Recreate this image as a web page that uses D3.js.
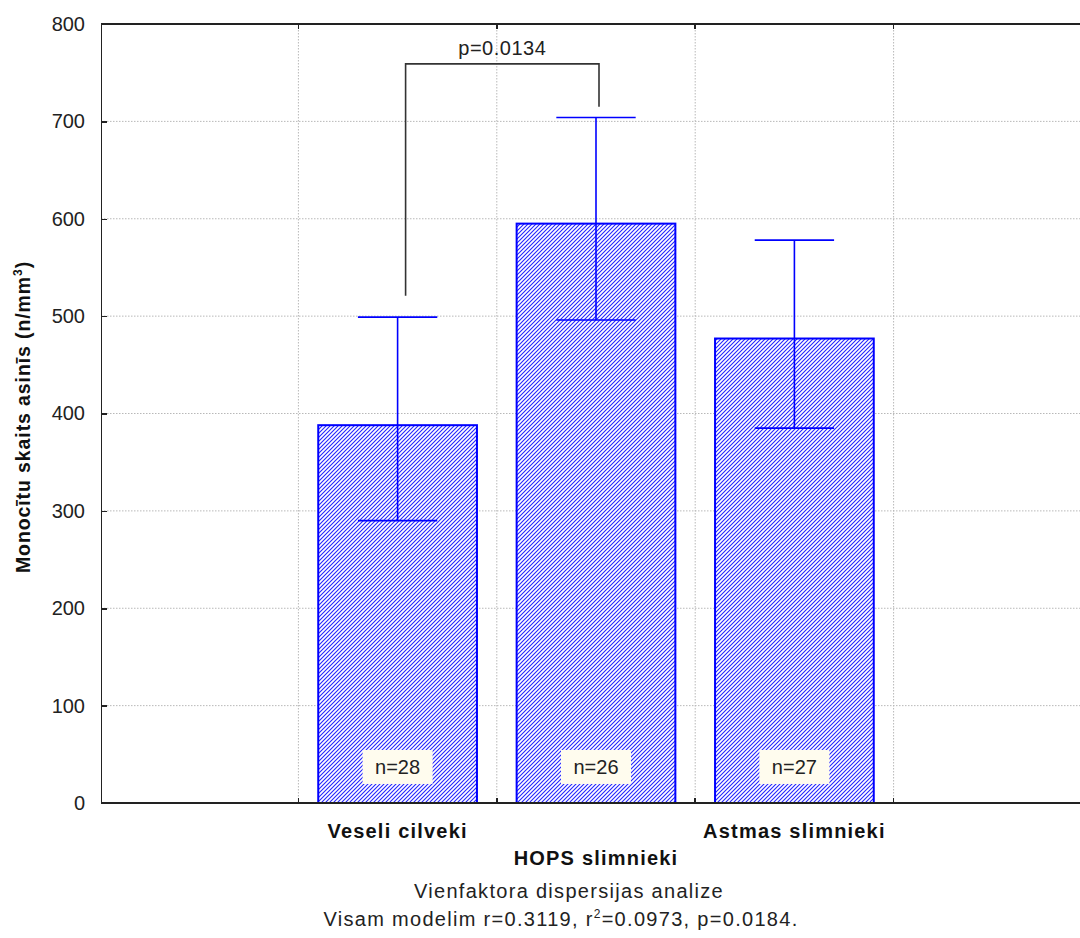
<!DOCTYPE html>
<html lang="lv">
<head>
    <meta charset="UTF-8">
    <title>Monocītu skaits asinīs</title>
    <script src="https://d3js.org/d3.v7.min.js"></script>
    <style>
        body {
            margin: 0;
            background: #fff;
            font-family: "Liberation Sans", Arial, sans-serif;
        }

        .grid line {
            stroke: #b8b8b8;
            stroke-width: 1;
            stroke-dasharray: 1.5, 1.5;
        }

        .axis path,
        .axis line {
            stroke: #222;
            stroke-width: 1.5;
            shape-rendering: crispEdges;
        }

        .axis text {
            font-size: 20px;
            fill: #222;
        }

        .bar {
            fill: url(#hatch);
            stroke: #0000ff;
            stroke-width: 2;
        }

        .err {
            stroke: #0000ff;
            stroke-width: 1.6;
        }

        .bracket {
            fill: none;
            stroke: #333;
            stroke-width: 1.6;
        }

        .cat-label {
            font-size: 20px;
            font-weight: bold;
            letter-spacing: 1.2px;
            fill: #111;
        }

        .note {
            font-size: 20px;
            letter-spacing: 1.3px;
            fill: #222;
        }
    </style>
</head>
<body>
    <svg width="1080" height="938"></svg>
    <script>
        // values
        const categories = ["Veseli cilveki", "HOPS slimnieki", "Astmas slimnieki"];
        const means = [388, 595, 477];
        const upper = [499, 704, 578];
        const lower = [290, 496, 385];
        const nLabels = ["n=28", "n=26", "n=27"];
        const yTicks = [0, 100, 200, 300, 400, 500, 600, 700, 800];
        // p-value bracket between group 1 and 2
        const bracketPair = [0, 1];
        const bracketTop = 759;
        const bracketEnds = [521, 715];
        const pText = "p=0.0134";

        const width = 1080;
        const height = 938;
        const margin = { top: 24, right: -12, bottom: 135, left: 101 };

        const svg = d3.select("svg");

        const defs = svg.append("defs");
        const pat = defs.append("pattern")
            .attr("id", "hatch")
            .attr("patternUnits", "userSpaceOnUse")
            .attr("width", 4)
            .attr("height", 4);
        pat.append("rect").attr("width", 4).attr("height", 4).attr("fill", "#fff");
        pat.append("path")
            .attr("d", "M-1,1 l2,-2 M0,4 l4,-4 M3,5 l2,-2")
            .attr("stroke", "#2323ff")
            .attr("stroke-width", 1.1);

        // empty slot on each side, like the original layout
        const slots = ["_l"].concat(categories, ["_r"]);

        const x = d3.scaleBand()
            .domain(slots)
            .range([margin.left - 1, width - margin.right]);

        const y = d3.scaleLinear()
            .domain([0, 800])
            .range([height - margin.bottom, margin.top]);

        const cx = i => x(categories[i]) + x.bandwidth() / 2;
        const barW = x.bandwidth() * 0.8;

        // grid
        const grid = svg.append("g").attr("class", "grid");
        grid.selectAll(".h").data(yTicks.slice(1, -1)).join("line")
            .attr("x1", margin.left).attr("x2", width)
            .attr("y1", d => y(d)).attr("y2", d => y(d));
        grid.selectAll(".v").data(slots.slice(1)).join("line")
            .attr("x1", d => x(d)).attr("x2", d => x(d))
            .attr("y1", margin.top).attr("y2", y(0));

        // bars
        svg.selectAll(".bar").data(means).join("rect")
            .attr("class", "bar")
            .attr("x", (d, i) => cx(i) - barW / 2)
            .attr("width", barW)
            .attr("y", d => y(d))
            .attr("height", d => y(0) - y(d));

        // error bars
        const capW = barW / 2;
        const err = svg.append("g");
        means.forEach((m, i) => {
            err.append("line").attr("class", "err")
                .attr("x1", cx(i)).attr("x2", cx(i))
                .attr("y1", y(lower[i])).attr("y2", y(upper[i]));
            [lower[i], upper[i]].forEach(v => {
                err.append("line").attr("class", "err")
                    .attr("x1", cx(i) - capW / 2).attr("x2", cx(i) + capW / 2)
                    .attr("y1", y(v)).attr("y2", y(v));
            });
        });

        // n labels
        const nAt = 37;
        const nl = svg.selectAll(".nlab").data(nLabels).join("g")
            .attr("transform", (d, i) => `translate(${cx(i)},${y(nAt)})`);
        nl.append("rect")
            .attr("x", -35).attr("y", -17).attr("width", 70).attr("height", 34)
            .attr("fill", "#fffcee");
        nl.append("text")
            .attr("text-anchor", "middle")
            .attr("dy", "0.36em")
            .style("font-size", "20px")
            .style("fill", "#222")
            .text(d => d);

        // axes
        const yAxis = svg.append("g")
            .attr("class", "axis")
            .attr("transform", `translate(${margin.left},0)`)
            .call(d3.axisLeft(y).tickValues(yTicks).tickSize(-6).tickSizeOuter(0).tickPadding(16));
        yAxis.selectAll(".tick").filter(d => d === 0 || d === 800).select("line").remove();

        const xAxis = svg.append("g").attr("class", "axis");
        xAxis.append("line")
            .attr("x1", margin.left).attr("x2", width)
            .attr("y1", y(0)).attr("y2", y(0));
        xAxis.append("line")
            .attr("x1", margin.left).attr("x2", width)
            .attr("y1", y(800)).attr("y2", y(800));
        xAxis.selectAll(".xt").data(slots.slice(1)).join("line")
            .attr("x1", d => x(d)).attr("x2", d => x(d))
            .attr("y1", y(0)).attr("y2", y(0) - 5);
        xAxis.selectAll(".xt2").data(slots.slice(1)).join("line")
            .attr("x1", d => x(d)).attr("x2", d => x(d))
            .attr("y1", y(800)).attr("y2", y(800) + 5);

        // category labels, staggered
        svg.selectAll(".cat-label").data(categories).join("text")
            .attr("class", "cat-label")
            .attr("text-anchor", "middle")
            .attr("x", (d, i) => cx(i))
            .attr("y", (d, i) => i % 2 === 0 ? 838 : 865)
            .text(d => d);

        // bracket
        const bx0 = cx(bracketPair[0]) + 8;
        const bx1 = cx(bracketPair[1]) + 3;
        svg.append("path")
            .attr("class", "bracket")
            .attr("d", `M${bx0},${y(bracketEnds[0])}V${y(bracketTop)}H${bx1}V${y(bracketEnds[1])}`);
        svg.append("text")
            .attr("class", "note")
            .style("letter-spacing", "0.5px")
            .attr("text-anchor", "middle")
            .attr("x", (bx0 + bx1) / 2)
            .attr("y", 55)
            .text(pText);

        // y label
        const yl = svg.append("text")
            .attr("transform", `translate(30,${417}) rotate(-90)`)
            .attr("text-anchor", "middle")
            .style("font-size", "19.5px")
            .style("font-weight", "bold")
            .style("letter-spacing", "0.9px")
            .style("fill", "#111");
        yl.append("tspan").text("Monocītu skaits asinīs (n/mm");
        yl.append("tspan").attr("dy", -8).style("font-size", "12px").text("3");
        yl.append("tspan").attr("dy", 8).text(")");

        // notes below
        svg.append("text")
            .attr("class", "note")
            .attr("text-anchor", "middle")
            .attr("x", 569).attr("y", 898)
            .text("Vienfaktora dispersijas analize");
        const n2 = svg.append("text")
            .attr("class", "note")
            .attr("text-anchor", "middle")
            .attr("x", 561).attr("y", 926);
        n2.append("tspan").text("Visam modelim r=0.3119, r");
        n2.append("tspan").attr("dy", -8).style("font-size", "12px").text("2");
        n2.append("tspan").attr("dy", 8).text("=0.0973, p=0.0184.");
    </script>
</body>
</html>
